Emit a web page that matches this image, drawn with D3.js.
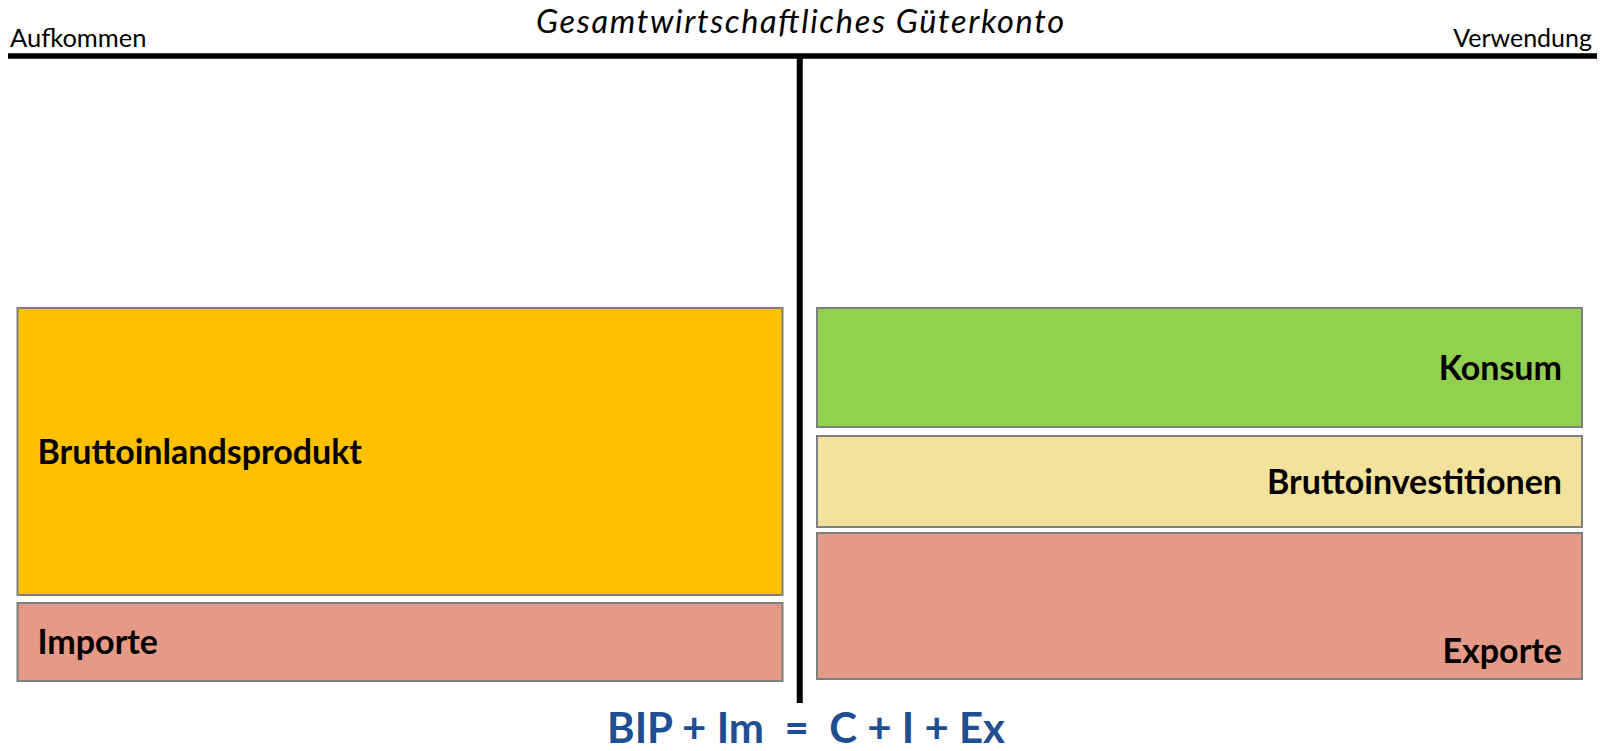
<!DOCTYPE html>
<html>
<head>
<meta charset="utf-8">
<script src="https://cdn.jsdelivr.net/npm/d3@7"></script>
<style>
  html, body { margin: 0; padding: 0; background: #fff; }
  svg { display: block; }
  text { font-family: Lato, "Open Sans", sans-serif; }
</style>
</head>
<body>
<svg id="chart" width="1603" height="751"></svg>
<script>
// ---- data ----
const titleText = "Gesamtwirtschaftliches Güterkonto";
const sides = ["Aufkommen", "Verwendung"];
const leftCategories = ["Bruttoinlandsprodukt", "Importe"];
const leftValues = [289, 80];
const leftColors = ["#FFC000", "#E49A87"];
const rightCategories = ["Konsum", "Bruttoinvestitionen", "Exporte"];
const rightValues = [121, 93, 148];
const rightColors = ["#92D050", "#F3E29B", "#E49A87"];
const formulaText = "BIP + Im  =  C + I + Ex";

// ---- layout ----
const leftGaps = [6];
const rightGaps = [7, 4];
const svg = d3.select("#chart");

const x = d3.scaleBand().domain(sides).range([16.5, 1583]).paddingInner(0.0406).paddingOuter(0);
const totalUnits = d3.max([
  d3.sum(leftValues) + d3.sum(leftGaps),
  d3.sum(rightValues) + d3.sum(rightGaps)
]);
const y = d3.scaleLinear().domain([0, totalUnits]).range([307, 307 + totalUnits]);

function stack(cats, vals, colors, gaps, side) {
  let acc = 0;
  return cats.map((c, i) => {
    const d = { name: c, start: acc, end: acc + vals[i], color: colors[i], idx: i, n: cats.length, side: side };
    acc += vals[i] + (gaps[i] || 0);
    return d;
  });
}
const all = stack(leftCategories, leftValues, leftColors, leftGaps, sides[0])
  .concat(stack(rightCategories, rightValues, rightColors, rightGaps, sides[1]));

// boxes
svg.selectAll("rect.box").data(all).join("rect")
  .attr("class", "box")
  .attr("x", d => x(d.side) + 1)
  .attr("y", d => y(d.start) + 1)
  .attr("width", x.bandwidth() - 2)
  .attr("height", d => y(d.end) - y(d.start) - 2)
  .attr("fill", d => d.color)
  .attr("stroke", "#7F7F7F")
  .attr("stroke-width", 2);

// labels
const pad = 21;
svg.selectAll("text.lbl").data(all).join("text")
  .attr("class", "lbl")
  .attr("x", d => d.side === sides[0] ? x(d.side) + pad : x(d.side) + x.bandwidth() - pad)
  .attr("y", d => {
    const bottomAnchored = d.side === sides[1] && d.idx === d.n - 1;
    return bottomAnchored ? y(d.end) - 17 : (y(d.start) + y(d.end)) / 2 + 12;
  })
  .attr("text-anchor", d => d.side === sides[0] ? "start" : "end")
  .attr("font-weight", "bold")
  .attr("font-size", 34)
  .attr("fill", "#000")
  .text(d => d.name);

// T-account lines
svg.append("line")
  .attr("x1", 8).attr("x2", 1597).attr("y1", 56).attr("y2", 56)
  .attr("stroke", "#000").attr("stroke-width", 5.5);
const midX = (x(sides[0]) + x.bandwidth() + x(sides[1])) / 2;
svg.append("line")
  .attr("x1", midX).attr("x2", midX).attr("y1", 56).attr("y2", 703)
  .attr("stroke", "#000").attr("stroke-width", 6);

// title and side headers
svg.append("text")
  .attr("x", 800).attr("y", 33)
  .attr("text-anchor", "middle")
  .attr("font-style", "italic")
  .attr("font-size", 32.5)
  .attr("textLength", 528)
  .attr("lengthAdjust", "spacing")
  .attr("fill", "#000")
  .text(titleText);

svg.append("text")
  .attr("x", 10).attr("y", 47)
  .attr("font-size", 25.5)
  .attr("fill", "#000")
  .text(sides[0]);
svg.append("text")
  .attr("x", 1592).attr("y", 47)
  .attr("text-anchor", "end")
  .attr("font-size", 25)
  .attr("fill", "#000")
  .text(sides[1]);

// formula
svg.append("text")
  .attr("x", 806).attr("y", 743)
  .attr("text-anchor", "middle")
  .attr("font-weight", "bold")
  .attr("font-size", 42)
  .attr("fill", "#1F4E93")
  .style("white-space", "pre")
  .text(formulaText);
</script>
</body>
</html>
